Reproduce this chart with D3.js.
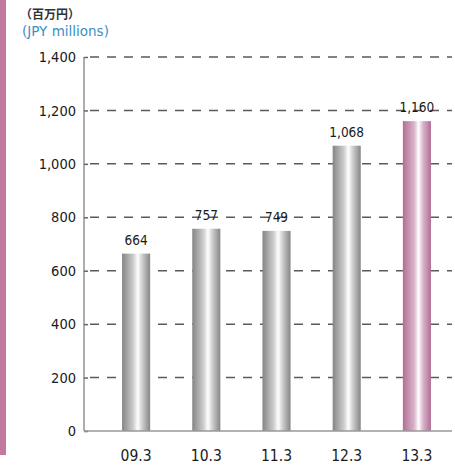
<!DOCTYPE html>
<html>
<head>
<meta charset="utf-8">
<script src="https://cdn.jsdelivr.net/npm/d3@7"></script>
<style>
  body { margin: 0; background: #fff; }
  svg text { font-family: "DejaVu Sans Condensed", "DejaVu Sans", sans-serif; }
</style>
</head>
<body>
<div id="chart"></div>
<script>
var categories = ["09.3", "10.3", "11.3", "12.3", "13.3"];
var values = [664, 757, 749, 1068, 1160];
var tickValues = [0, 200, 400, 600, 800, 1000, 1200, 1400];

var width = 455, height = 465;
var x0 = 84, x1 = 452, yTop = 57, yBottom = 431;

var svg = d3.select("#chart").append("svg")
    .attr("width", width)
    .attr("height", height);

// side strip
svg.append("rect")
    .attr("x", 0).attr("y", 0)
    .attr("width", 6).attr("height", 455)
    .attr("fill", "#c27a9c");

var defs = svg.append("defs");
function cylinder(id, edge, mid) {
    var g = defs.append("linearGradient").attr("id", id)
        .attr("x1", "0%").attr("x2", "100%").attr("y1", "0%").attr("y2", "0%");
    g.append("stop").attr("offset", "0%").attr("stop-color", edge);
    g.append("stop").attr("offset", "40%").attr("stop-color", mid);
    g.append("stop").attr("offset", "56%").attr("stop-color", "#ffffff");
    g.append("stop").attr("offset", "72%").attr("stop-color", mid);
    g.append("stop").attr("offset", "100%").attr("stop-color", edge);
}
cylinder("grayBar", "#858585", "#cdcdcd");
cylinder("pinkBar", "#b06e96", "#dab2ca");

var y = d3.scaleLinear().domain([0, 1400]).range([yBottom, yTop]);
var x = d3.scaleBand().domain(categories).range([101, 452]).paddingInner(0.6).paddingOuter(0.3);

// dashed grid
svg.append("g").selectAll("line")
    .data(tickValues.filter(function (d) { return d > 0; }))
    .enter().append("line")
    .attr("x1", x0 + 6).attr("x2", x1)
    .attr("y1", function (d) { return y(d); })
    .attr("y2", function (d) { return y(d); })
    .attr("stroke", "#5a5a5a")
    .attr("stroke-width", 1.5)
    .attr("stroke-dasharray", "9,8");

// y axis
var yAxis = svg.append("g")
    .attr("transform", "translate(" + x0 + ",0)")
    .call(d3.axisRight(y).tickValues(tickValues).tickSize(4).tickFormat(d3.format(",")));
yAxis.select(".domain").attr("stroke", "#999").attr("stroke-width", 1.6)
    .attr("d", "M0," + yTop + "V" + yBottom);
yAxis.selectAll(".tick line").attr("stroke", "#666").attr("stroke-width", 1.5);
yAxis.selectAll(".tick text")
    .attr("x", -8)
    .attr("text-anchor", "end")
    .attr("fill", "#1a1a1a")
    .style("font-size", "14.5px");

// bars
svg.append("g").selectAll("rect")
    .data(values)
    .enter().append("rect")
    .attr("x", function (d, i) { return x(categories[i]); })
    .attr("y", function (d) { return y(d); })
    .attr("width", x.bandwidth())
    .attr("height", function (d) { return yBottom - y(d); })
    .attr("fill", function (d, i) { return i == values.length - 1 ? "url(#pinkBar)" : "url(#grayBar)"; });

// value labels
svg.append("g").selectAll("text")
    .data(values)
    .enter().append("text")
    .attr("x", function (d, i) { return x(categories[i]) + x.bandwidth() / 2; })
    .attr("y", function (d) { return y(d) - 9; })
    .attr("text-anchor", "middle")
    .attr("fill", "#1a1a1a")
    .style("font-size", "13.5px")
    .text(function (d) { return d3.format(",")(d); });

// x axis line
svg.append("line")
    .attr("x1", x0).attr("x2", x1)
    .attr("y1", yBottom).attr("y2", yBottom)
    .attr("stroke", "#999").attr("stroke-width", 1.6);

// category labels
svg.append("g").selectAll("text")
    .data(categories)
    .enter().append("text")
    .attr("x", function (d) { return x(d) + x.bandwidth() / 2; })
    .attr("y", 461)
    .attr("text-anchor", "middle")
    .attr("fill", "#1a1a1a")
    .style("font-size", "15.5px")
    .text(function (d) { return d; });

// unit titles
svg.append("text")
    .attr("x", 20).attr("y", 19)
    .attr("fill", "#333")
    .style("font-family", "'Noto Sans CJK JP', sans-serif")
    .style("font-size", "12px")
    .style("font-weight", "bold")
    .text("（百万円）");
svg.append("text")
    .attr("x", 22).attr("y", 36)
    .attr("fill", "#3a8fc4")
    .style("font-family", "'DejaVu Sans', sans-serif")
    .style("font-size", "13.5px")
    .text("(JPY millions)");
</script>
</body>
</html>
